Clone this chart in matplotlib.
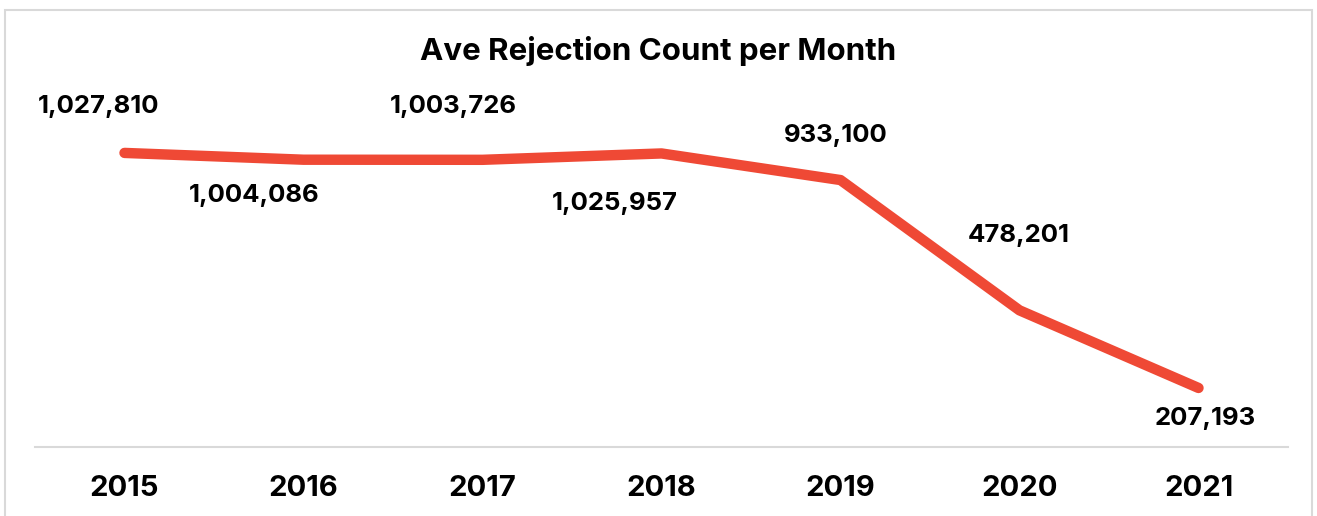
import matplotlib.pyplot as plt
from matplotlib.patches import Rectangle

years = ['2015', '2016', '2017', '2018', '2019', '2020', '2021']
counts = [1027810, 1004086, 1003726, 1025957, 933100, 478201, 207193]
labels = ['1,027,810', '1,004,086', '1,003,726', '1,025,957', '933,100', '478,201', '207,193']

# label offsets in pixels (dx, dy), placed by hand like in the original
offsets = [(-26, 46), (-49, -36), (-29, 53), (-47, -50), (-5, 45), (-1, 75), (7, -31)]

plt.rcParams['font.family'] = ['Inter', 'DejaVu Sans']

fig = plt.figure(figsize=(13.17, 5.16), dpi=100)
ax = fig.add_axes([35/1317, 1 - 447.3/516, 1253/1317, 343.7/516])

x = range(len(years))
ax.plot(x, counts, color='#EF4935', linewidth=7.5, solid_capstyle='round', solid_joinstyle='round')

for i, (val, lab) in enumerate(zip(counts, labels)):
    ax.annotate(lab, (i, val), xytext=offsets[i], textcoords='offset pixels',
                ha='center', va='center', fontsize=18.5, fontweight='bold', color='black')

ax.set_xlim(-0.5, len(years) - 0.5)
ax.set_ylim(0, 1200000)
ax.set_xticks(list(x))
ax.set_xticklabels(years, fontsize=21, fontweight='bold')
ax.tick_params(axis='x', length=0, pad=20)
ax.set_yticks([])
for s in ['top', 'left', 'right']:
    ax.spines[s].set_visible(False)
ax.spines['bottom'].set_color('#D9D9D9')
ax.spines['bottom'].set_linewidth(1.5)

fig.text(0.5, 1 - 51/516, 'Ave Rejection Count per Month', ha='center', va='center',
         fontsize=22.5, fontweight='bold')

fig.patches.append(Rectangle((5/1317, -0.1), 1307/1317, 1.1 - 10/516, transform=fig.transFigure,
                             fill=False, edgecolor='#D9D9D9', linewidth=1.5))

fig.savefig('out.png', dpi=100)
